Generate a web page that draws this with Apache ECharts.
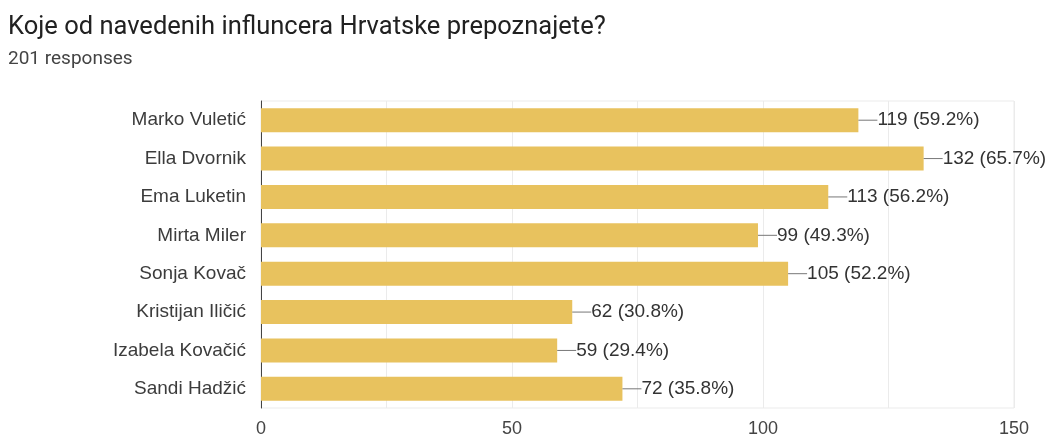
<!DOCTYPE html>
<html><head><meta charset="utf-8">
<script src="https://cdn.jsdelivr.net/npm/echarts@6/dist/echarts.min.js"></script>
<style>html,body{margin:0;padding:0;background:#fff}#c{width:1047px;height:438px}</style>
</head><body><div id="c"></div>
<script>
const titleText = 'Koje od navedenih influncera Hrvatske prepoznajete?';
const subtitleText = '201 responses';
const categories = ['Marko Vuletić','Ella Dvornik','Ema Luketin','Mirta Miler','Sonja Kovač','Kristijan Iličić','Izabela Kovačić','Sandi Hadžić'];
const counts = [119,132,113,99,105,62,59,72];
const percents = ['59.2%','65.7%','56.2%','49.3%','52.2%','30.8%','29.4%','35.8%'];

const chart = echarts.init(document.getElementById('c'), null, {renderer:'canvas'});
chart.setOption({
  animation:false,
  title:[
    {text:titleText, left:3, top:10, textStyle:{fontFamily:'Roboto', fontSize:25.5, fontWeight:'normal', color:'#212121'}},
    {text:subtitleText, left:3, top:45, textStyle:{fontFamily:'Roboto', fontSize:19, fontWeight:'normal', color:'#444'}}
  ],
  grid:{left:261, right:33, top:101, bottom:30, show:true, borderColor:'#ebebeb', borderWidth:1},
  xAxis:{type:'value', min:0, max:150, interval:25,
    axisLine:{show:false}, axisTick:{show:false},
    splitLine:{lineStyle:{color:'#ebebeb'}},
    axisLabel:{margin:12, fontFamily:'Liberation Sans', fontSize:18, color:'#444',
      formatter:v => v % 50 === 0 ? String(v) : ''}},
  yAxis:{type:'category', inverse:true, data:categories,
    axisLine:{show:true, lineStyle:{color:'#444', width:1}}, axisTick:{show:false},
    axisLabel:{margin:15, fontFamily:'Liberation Sans', fontSize:19, color:'#3c3c3c'}},
  series:[{type:'bar', data:counts, barWidth:24,
    itemStyle:{color:'#E8C25E'},
    label:{show:true, position:'right', distance:0, fontFamily:'Liberation Sans', fontSize:19, color:'#333',
      formatter:p => '{l|}{t|' + p.value + ' (' + percents[p.dataIndex] + ')}',
      rich:{
        l:{width:19, height:1, backgroundColor:'#777'},
        t:{fontFamily:'Liberation Sans', fontSize:19, color:'#333'}
      }}
  }]
});
</script></body></html>
